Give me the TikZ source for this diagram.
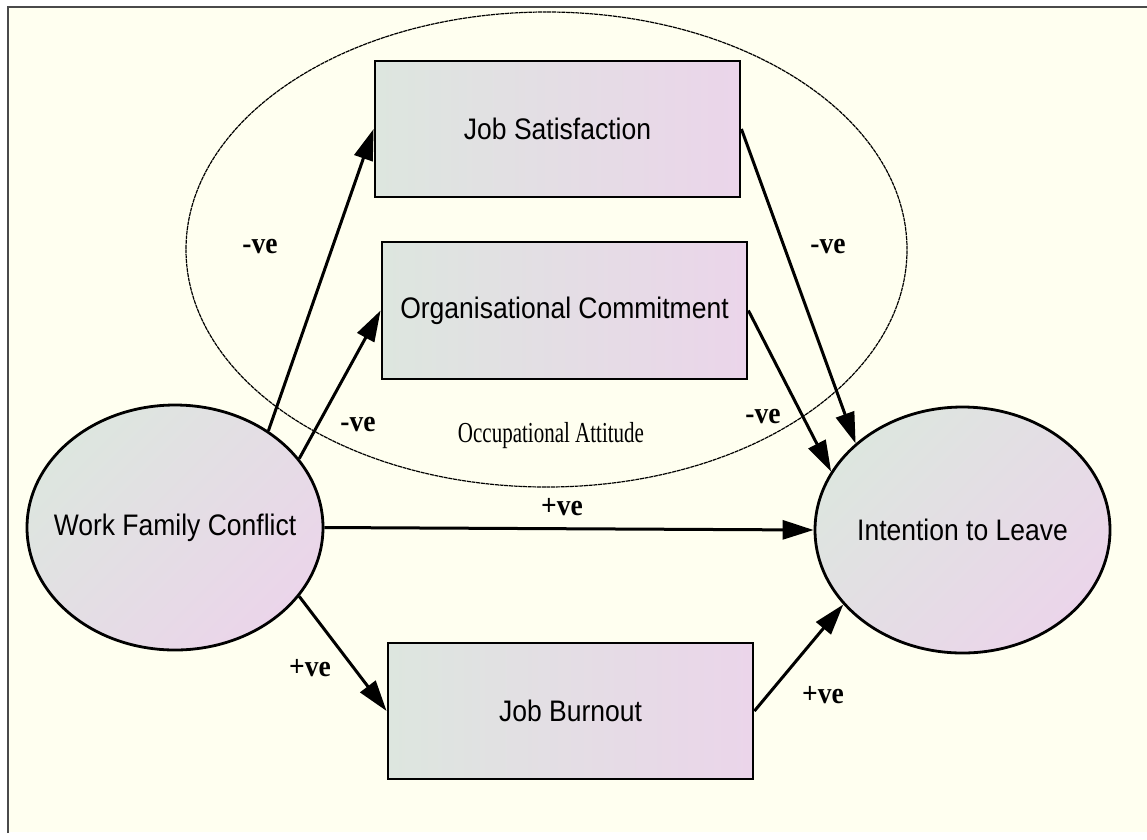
\documentclass[tikz,border=0pt]{standalone}
\usepackage{fontspec}
\usepackage{graphicx}
\setmainfont{Liberation Serif}
\newfontfamily\arialf{Liberation Sans}
\usetikzlibrary{shapes.geometric,arrows.meta}

\definecolor{paper}{HTML}{FFFFF0}
\definecolor{framegray}{HTML}{4A4A4A}
\definecolor{fillleft}{HTML}{DDE6DF}
\definecolor{fillright}{HTML}{EBD5EA}

% construct names, relation signs and the group caption
\newcommand{\constructtext}[1]{\scalebox{1}[1.12]{#1}}
\newcommand{\ovaltext}[1]{\makebox[0pt]{\scalebox{1}[1.12]{#1}}}
\newcommand{\signtext}[1]{\scalebox{1}[1.1]{#1}}

\tikzset{
  construct/.style={draw=black, line width=2.8pt, inner sep=0pt,
    font=\arialf\fontsize{26.5}{30}\selectfont},
  boxconstruct/.style={construct, rectangle, minimum width=365pt, minimum height=136pt,
    left color=fillleft, right color=fillright},
  ovalconstruct/.style={construct, ellipse,
    top color=fillleft, bottom color=fillright, shading angle=45},
  grouping/.style={ellipse, draw=black, line width=1.2pt, dash pattern=on 4pt off 0.7pt,
    inner sep=0pt},
  sign/.style={font=\bfseries\fontsize{27.5}{30}\selectfont, inner sep=0pt},
  relpath/.style={draw=black, line width=3pt, -{Triangle[length=31pt,width=19pt]}},
}

\begin{document}
\begin{tikzpicture}[x=1pt, y=-1pt]
  \useasboundingbox (0,0) rectangle (1147,839);
  \fill[white] (0,0) rectangle (1147,839);
  \fill[paper] (8,7) rectangle (1147,832);
  \draw[framegray, line width=2.4pt] (8,833) -- (8,7) -- (1147,7);

  % occupational attitude grouping
  \node[grouping, minimum width=721pt, minimum height=475pt] (attitude) at (546.5,249.5) {};
  \node[font=\fontsize{21}{24}\selectfont, inner sep=0pt] (attitudelabel) at (551,436)
    {\scalebox{1}[1.38]{Occupational Attitude}};

  % constructs
  \node[boxconstruct] (js) at (557.5,129) {\constructtext{Job Satisfaction}};
  \node[boxconstruct, minimum height=137pt] (oc) at (564.5,310.5) {\constructtext{Organisational Commitment}};
  \node[boxconstruct] (jb) at (570.5,711) {\constructtext{Job Burnout}};
  \node[ovalconstruct, minimum width=296pt, minimum height=245pt] (wfc) at (175,527.5)
    {\ovaltext{Work Family Conflict}};
  \node[ovalconstruct, minimum width=295pt, minimum height=246pt] (itl) at (962.5,530)
    {\ovaltext{Intention to Leave}};

  % hypothesised paths
  \draw[relpath] (wfc.46) -- (js.west);
  \draw[relpath] (wfc.29.5) -- (oc.west);
  \draw[relpath] (wfc.east) -- (itl.west);
  \draw[relpath] (wfc.-29) -- (jb.west);
  \draw[relpath] (js.east) -- (itl.141.7);
  \draw[relpath] (oc.east) -- (itl.156.6);
  \draw[relpath] (jb.east) -- (itl.212);

  % relation signs
  \node[sign] (s1) at (260,247) {\signtext{-ve}};
  \node[sign] (s2) at (358,425) {\signtext{-ve}};
  \node[sign] (s3) at (562,507) {\signtext{+ve}};
  \node[sign] (s4) at (310,668) {\signtext{+ve}};
  \node[sign] (s5) at (823,695) {\signtext{+ve}};
  \node[sign] (s6) at (763,417) {\signtext{-ve}};
  \node[sign] (s7) at (828,247) {\signtext{-ve}};
\end{tikzpicture}
\end{document}
